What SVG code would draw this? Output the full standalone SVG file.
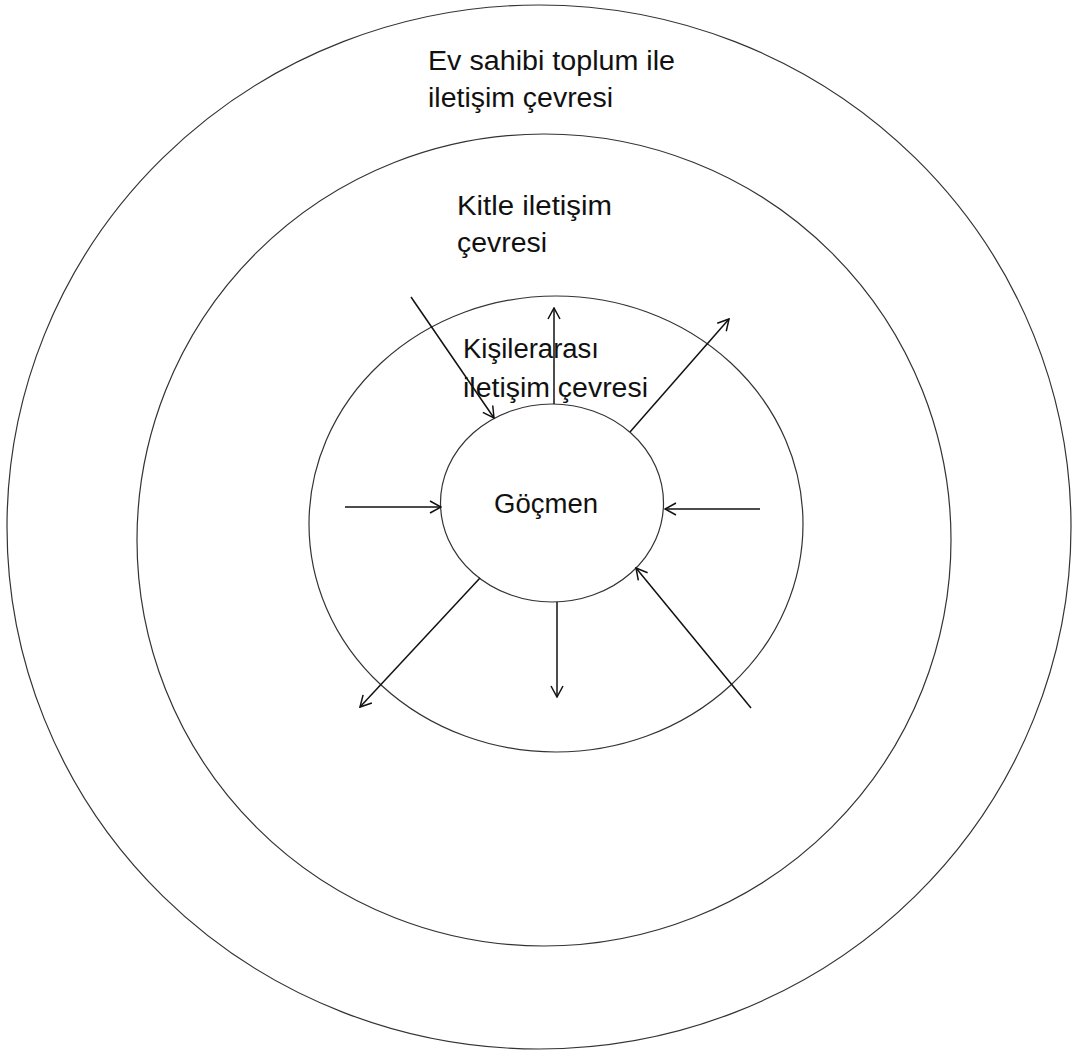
<svg xmlns="http://www.w3.org/2000/svg" width="1074" height="1053" viewBox="0 0 1074 1053">
<style>
.ring{fill:none;stroke:#333;stroke-width:1.2}
.lbl{font-family:"Liberation Sans",Arial,sans-serif;font-size:27px;fill:#111}
.arr{stroke:#111;stroke-width:1.5;fill:none;marker-end:url(#ah)}
</style>
<defs>
<marker id="ah" viewBox="0 0 14 14" refX="13" refY="7" markerWidth="14" markerHeight="14" markerUnits="userSpaceOnUse" orient="auto">
<path d="M2,1 L13,7 L2,13" fill="none" stroke="#111" stroke-width="1.5"/>
</marker>
</defs>
<rect width="1074" height="1053" fill="#fff"/>
<g id="outer">
<ellipse class="ring" cx="539" cy="527" rx="532" ry="522"/>
<text class="lbl" x="428" y="70" textLength="247" lengthAdjust="spacingAndGlyphs">Ev sahibi toplum ile</text>
<text class="lbl" x="428" y="107" textLength="185" lengthAdjust="spacingAndGlyphs">iletişim çevresi</text>
</g>
<g id="mass">
<ellipse class="ring" cx="544" cy="540" rx="407" ry="406"/>
<text class="lbl" x="457" y="215" textLength="155" lengthAdjust="spacingAndGlyphs">Kitle iletişim</text>
<text class="lbl" x="457" y="252" textLength="90" lengthAdjust="spacingAndGlyphs">çevresi</text>
</g>
<g id="interpersonal">
<ellipse class="ring" cx="556" cy="524" rx="247" ry="228"/>
<text class="lbl" x="463" y="358" textLength="136" lengthAdjust="spacingAndGlyphs">Kişilerarası</text>
<text class="lbl" x="463" y="397" textLength="185" lengthAdjust="spacingAndGlyphs">iletişim çevresi</text>
</g>
<g id="migrant">
<ellipse class="ring" cx="552" cy="503" rx="111.5" ry="99"/>
<text class="lbl" x="494" y="513" textLength="104" lengthAdjust="spacingAndGlyphs">Göçmen</text>
</g>
<g id="connectors">
<line class="arr" x1="345" y1="507" x2="441" y2="507"/>
<line class="arr" x1="760" y1="509" x2="665" y2="509"/>
<line class="arr" x1="557" y1="602" x2="557" y2="697"/>
<line class="arr" x1="480" y1="578" x2="360" y2="707"/>
<line class="arr" x1="751" y1="708" x2="636" y2="568"/>
<line class="arr" x1="630" y1="432" x2="729" y2="319"/>
<line class="arr" x1="554" y1="404" x2="554" y2="308"/>
<line class="arr" x1="411" y1="297" x2="494" y2="418"/>
</g>
</svg>
